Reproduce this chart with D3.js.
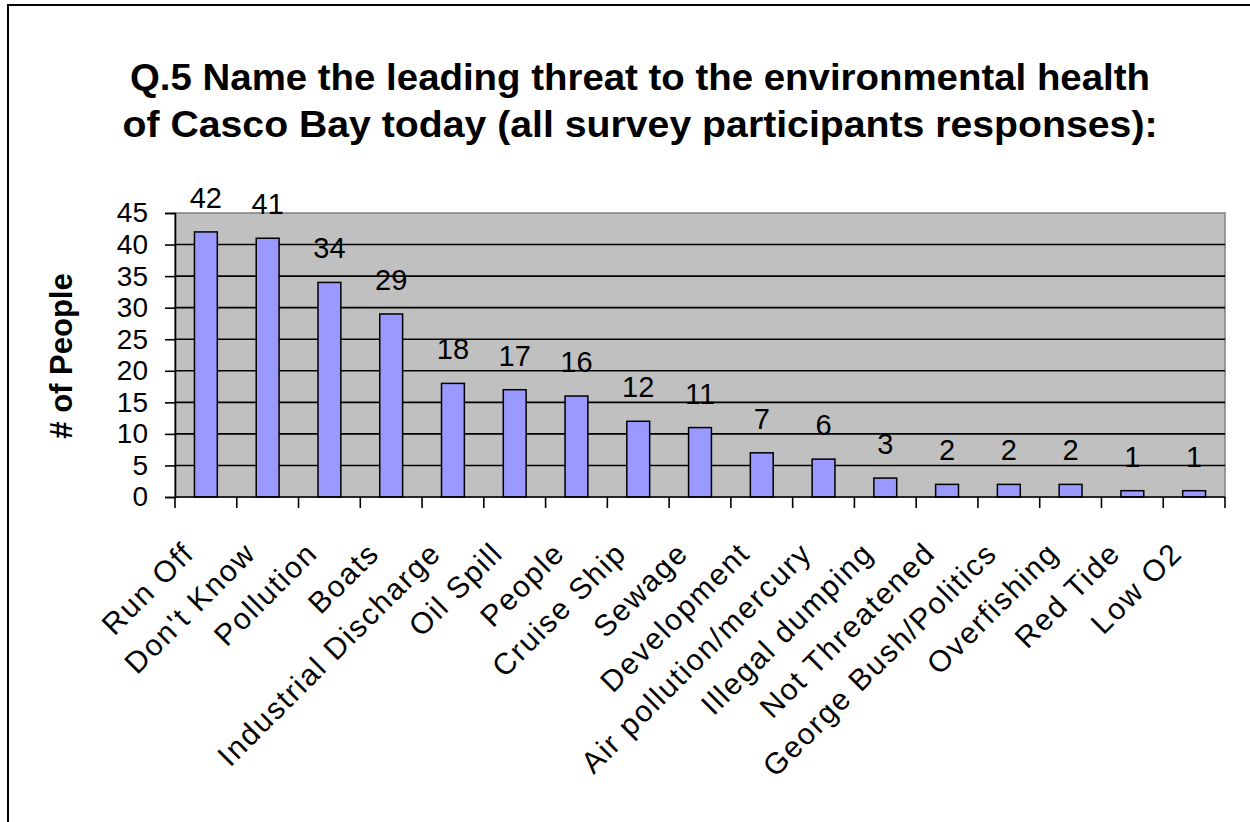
<!DOCTYPE html>
<html>
<head>
<meta charset="utf-8">
<script src="https://cdn.jsdelivr.net/npm/d3@7"></script>
<style>
  body { margin: 0; background: #fff; }
  svg { display: block; font-family: "Liberation Sans", Arial, sans-serif; }
</style>
</head>
<body>
<div class="chart"></div>
<script>
// survey answers, in the order shown
let categories = ["Run Off", "Don't Know", "Pollution", "Boats", "Industrial Discharge",
  "Oil Spill", "People", "Cruise Ship", "Sewage", "Development", "Air pollution/mercury",
  "Illegal dumping", "Not Threatened", "George Bush/Politics", "Overfishing", "Red Tide", "Low O2"];
let counts = [42, 41, 34, 29, 18, 17, 16, 12, 11, 7, 6, 3, 2, 2, 2, 1, 1];
let yTicks = [0, 5, 10, 15, 20, 25, 30, 35, 40, 45];
let titleLines = ["Q.5 Name the leading threat to the environmental health",
  "of Casco Bay today (all survey participants responses):"];

let width = 1250, height = 822;
let plotLeft = 175, plotRight = 1225, plotTop = 213, plotBottom = 497;

let svg = d3.select('div.chart').append('svg')
  .attr('width', width)
  .attr('height', height);

// frame round the whole chart
svg.append('rect')
  .attr('x', 8).attr('y', 5)
  .attr('width', width + 20).attr('height', height + 20)
  .attr('fill', 'none')
  .attr('stroke', '#000')
  .attr('stroke-width', 2);

let x = d3.scaleBand().domain(categories).range([plotLeft, plotRight]).paddingInner(0.63).paddingOuter(0.315);
let xTick = d3.scaleBand().domain(categories).range([plotLeft, plotRight]);
let y = d3.scaleLinear().domain([0, 45]).range([plotBottom, plotTop]);

// plot area
svg.append('rect')
  .attr('x', plotLeft).attr('y', plotTop)
  .attr('width', plotRight - plotLeft).attr('height', plotBottom - plotTop)
  .attr('fill', '#c0c0c0')
  .attr('stroke', '#808080')
  .attr('stroke-width', 1.5);

svg.append('g')
  .selectAll('line')
  .data(yTicks.filter(d => d > 0 && d < 45))
  .enter().append('line')
  .attr('x1', plotLeft).attr('x2', plotRight)
  .attr('y1', d => y(d)).attr('y2', d => y(d))
  .attr('stroke', '#000')
  .attr('stroke-width', 1.6);

// bars
svg.append('g')
  .selectAll('rect')
  .data(counts)
  .enter().append('rect')
  .attr('x', (d, i) => x(categories[i]))
  .attr('y', d => y(d))
  .attr('width', x.bandwidth())
  .attr('height', d => y(0) - y(d))
  .attr('fill', '#9999ff')
  .attr('stroke', '#000')
  .attr('stroke-width', 1.5);

// value labels
svg.append('g')
  .selectAll('text')
  .data(counts)
  .enter().append('text')
  .attr('x', (d, i) => x(categories[i]) + x.bandwidth() / 2)
  .attr('y', d => y(d) - 24)
  .attr('text-anchor', 'middle')
  .style('font-size', '29px')
  .text(d => d);

// y axis
let yAxis = d3.axisLeft(y).tickValues(yTicks).tickSize(10).tickPadding(17);
let gy = svg.append('g')
  .attr('transform', 'translate(' + plotLeft + ',0)')
  .call(yAxis);
gy.attr('font-family', null).attr('font-size', null);
gy.selectAll('path, line').attr('stroke', '#000').attr('stroke-width', 1.6);
gy.selectAll('text').style('font-size', '28px').attr('fill', '#000');

// x axis: ticks between categories
let tickPos = categories.map(c => xTick(c)).concat([plotRight]);
let gx = svg.append('g');
gx.append('line')
  .attr('x1', plotLeft).attr('x2', plotRight)
  .attr('y1', plotBottom).attr('y2', plotBottom)
  .attr('stroke', '#000').attr('stroke-width', 1.6);
gx.selectAll('line.tick')
  .data(tickPos)
  .enter().append('line')
  .attr('class', 'tick')
  .attr('x1', d => d).attr('x2', d => d)
  .attr('y1', plotBottom).attr('y2', plotBottom + 11)
  .attr('stroke', '#000').attr('stroke-width', 1.6);

svg.append('g')
  .selectAll('text')
  .data(categories)
  .enter().append('text')
  .attr('transform', d => 'translate(' + (xTick(d) + xTick.bandwidth() / 2 - 10) + ',' + (plotBottom + 58) + ')rotate(-45)')
  .attr('text-anchor', 'end')
  .style('font-size', '30px')
  .style('letter-spacing', '1.8px')
  .text(d => d);

// axis title
svg.append('text')
  .attr('transform', 'translate(72,356)rotate(-90)')
  .attr('text-anchor', 'middle')
  .style('font-size', '31px')
  .style('font-weight', 'bold')
  .text('# of People');

// chart title
svg.append('g')
  .selectAll('text')
  .data(titleLines)
  .enter().append('text')
  .attr('x', 640)
  .attr('y', (d, i) => 90 + i * 47)
  .attr('text-anchor', 'middle')
  .attr('textLength', (d, i) => i == 0 ? 1020 : 1035)
  .attr('lengthAdjust', 'spacingAndGlyphs')
  .style('font-size', '36px')
  .style('font-weight', 'bold')
  .text(d => d);
</script>
</body>
</html>
